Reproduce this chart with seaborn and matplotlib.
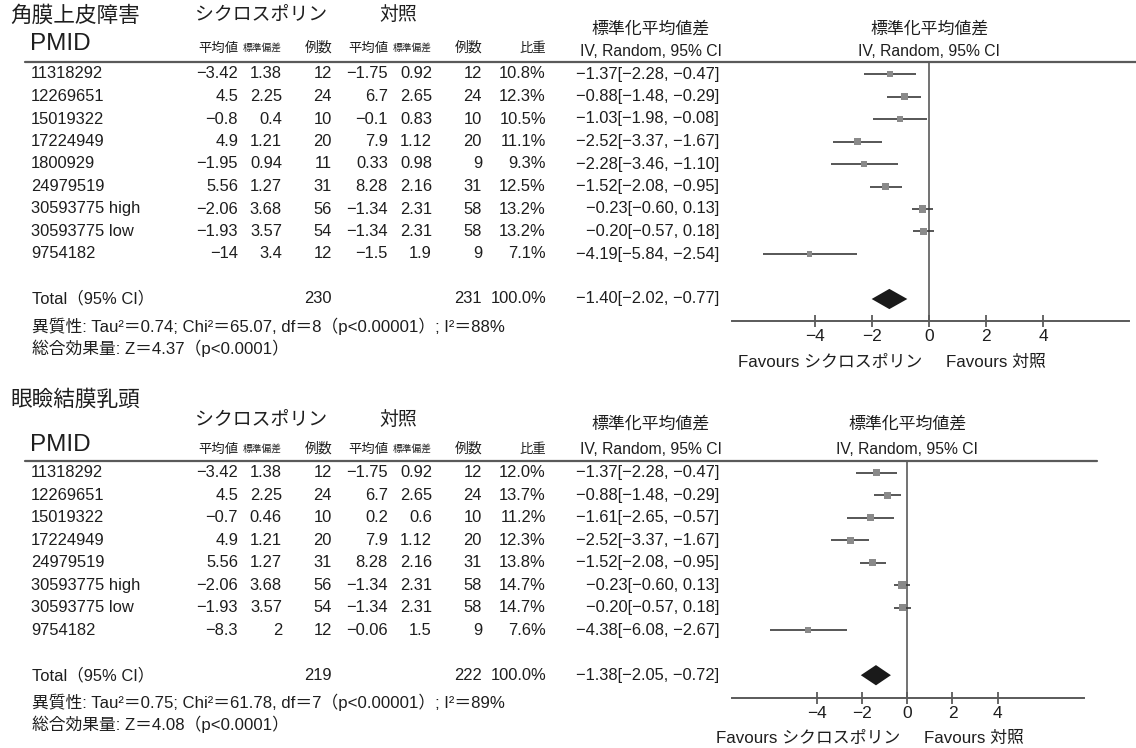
import matplotlib
matplotlib.use("Agg")
import matplotlib.pyplot as plt
from matplotlib.lines import Line2D
import numpy as np
import pandas as pd
import seaborn as sns

# ---------------- data: 角膜上皮障害 ----------------
kerat_pmid = ["11318292", "12269651", "15019322", "17224949", "1800929",
              "24979519", "30593775 high", "30593775 low", "9754182"]
kerat_cyc_mean = [-3.42, 4.5, -0.8, 4.9, -1.95, 5.56, -2.06, -1.93, -14]
kerat_cyc_sd = [1.38, 2.25, 0.4, 1.21, 0.94, 1.27, 3.68, 3.57, 3.4]
kerat_cyc_n = [12, 24, 10, 20, 11, 31, 56, 54, 12]
kerat_ctl_mean = [-1.75, 6.7, -0.1, 7.9, 0.33, 8.28, -1.34, -1.34, -1.5]
kerat_ctl_sd = [0.92, 2.65, 0.83, 1.12, 0.98, 2.16, 2.31, 2.31, 1.9]
kerat_ctl_n = [12, 24, 10, 20, 9, 31, 58, 58, 9]
kerat_weight = [10.8, 12.3, 10.5, 11.1, 9.3, 12.5, 13.2, 13.2, 7.1]
kerat_smd = [-1.37, -0.88, -1.03, -2.52, -2.28, -1.52, -0.23, -0.20, -4.19]
kerat_lo = [-2.28, -1.48, -1.98, -3.37, -3.46, -2.08, -0.60, -0.57, -5.84]
kerat_hi = [-0.47, -0.29, -0.08, -1.67, -1.10, -0.95, 0.13, 0.18, -2.54]
kerat_total_n = [230, 231]
kerat_pooled = [-1.40, -2.02, -0.77]
kerat_het = "異質性: Tau²＝0.74; Chi²＝65.07, df＝8（p<0.00001）; I²＝88%"
kerat_overall = "総合効果量: Z＝4.37（p<0.0001）"

# ---------------- data: 眼瞼結膜乳頭 ----------------
papil_pmid = ["11318292", "12269651", "15019322", "17224949", "24979519",
              "30593775 high", "30593775 low", "9754182"]
papil_cyc_mean = [-3.42, 4.5, -0.7, 4.9, 5.56, -2.06, -1.93, -8.3]
papil_cyc_sd = [1.38, 2.25, 0.46, 1.21, 1.27, 3.68, 3.57, 2]
papil_cyc_n = [12, 24, 10, 20, 31, 56, 54, 12]
papil_ctl_mean = [-1.75, 6.7, 0.2, 7.9, 8.28, -1.34, -1.34, -0.06]
papil_ctl_sd = [0.92, 2.65, 0.6, 1.12, 2.16, 2.31, 2.31, 1.5]
papil_ctl_n = [12, 24, 10, 20, 31, 58, 58, 9]
papil_weight = [12.0, 13.7, 11.2, 12.3, 13.8, 14.7, 14.7, 7.6]
papil_smd = [-1.37, -0.88, -1.61, -2.52, -1.52, -0.23, -0.20, -4.38]
papil_lo = [-2.28, -1.48, -2.65, -3.37, -2.08, -0.60, -0.57, -6.08]
papil_hi = [-0.47, -0.29, -0.57, -1.67, -0.95, 0.13, 0.18, -2.67]
papil_total_n = [219, 222]
papil_pooled = [-1.38, -2.05, -0.72]
papil_het = "異質性: Tau²＝0.75; Chi²＝61.78, df＝7（p<0.00001）; I²＝89%"
papil_overall = "総合効果量: Z＝4.08（p<0.0001）"

tick_values = [-4, -2, 0, 2, 4]

# ---------------- style ----------------
sns.set_theme(style="white")
LATIN = ["Liberation Sans", "Noto Sans CJK JP", "DejaVu Sans"]
CJK = ["Noto Sans CJK JP", "DejaVu Sans"]
plt.rcParams["font.family"] = LATIN
plt.rcParams["axes.unicode_minus"] = True

INK = "#1e1e1e"
RULE = "#5a5a5a"
LINE = "#3a3a3a"
SQUARE = "#8a8a8a"
DIAMOND = "#1a1a1a"

W, H = 1136, 748
fig = plt.figure(figsize=(W / 100, H / 100), dpi=100)

ROW_SIZE = 11.9
NOTE_SIZE = 12.1
ROW_STEP = 22.5


def put(x, y, s, size, ha="left", va="center", family=None, color=INK):
    fig.text(x / W, 1 - y / H, s, fontsize=size, ha=ha, va=va,
             color=color, family=family or LATIN)


def num(v):
    return f"{v:g}".replace("-", "−")


def ci_text(e, lo, hi):
    f = lambda v: f"{v:.2f}".replace("-", "−")
    return f"{f(e)}[{f(lo)}, {f(hi)}]"


# right edges of the table columns
COL_CM, COL_CS, COL_CN = 238, 282, 332
COL_TM, COL_TS, COL_TN = 388, 432, 482
COL_W, COL_CI = 546, 719


def panel(title, lay, pmid, cm, cs, cn, tm, ts, tn, weight, smd, lo, hi,
          total_n, pooled, het, overall):
    # ---- headers ----
    put(10, lay["title_y"], title, 15.6, family=CJK)
    put(195, lay["group_y"], "シクロスポリン", 13.6, family=CJK)
    put(379, lay["group_y"], "対照", 13.6, family=CJK)
    put(30, lay["pmid_y"], "PMID", 17.5)
    for x, lab, sz in [(COL_CM, "平均値", 9.6), (COL_CS, "標準偏差", 7.0),
                       (COL_CN, "例数", 10), (COL_TM, "平均値", 9.6),
                       (COL_TS, "標準偏差", 7.0), (COL_TN, "例数", 10),
                       (COL_W, "比重", 9.6)]:
        put(x, lay["sub_y"], lab, sz, ha="right", family=CJK)
    for cx in (651, lay["zero_x"]):
        put(cx, lay["smd_y"], "標準化平均値差", 12.2, ha="center", family=CJK)
        put(cx, lay["iv_y"], "IV, Random, 95% CI", 11.3, ha="center")
    fig.add_artist(Line2D([25 / W, lay["rule_right"] / W],
                          [1 - lay["rule_y"] / H] * 2, color=RULE, lw=1.6))

    # ---- table rows ----
    n = len(pmid)
    ys = [lay["row0"] + ROW_STEP * i for i in range(n)]
    for i, y in enumerate(ys):
        put(31, y, pmid[i], ROW_SIZE)
        put(COL_CM, y, num(cm[i]), ROW_SIZE, ha="right")
        put(COL_CS, y, num(cs[i]), ROW_SIZE, ha="right")
        put(COL_CN, y, num(cn[i]), ROW_SIZE, ha="right")
        put(COL_TM, y, num(tm[i]), ROW_SIZE, ha="right")
        put(COL_TS, y, num(ts[i]), ROW_SIZE, ha="right")
        put(COL_TN, y, num(tn[i]), ROW_SIZE, ha="right")
        put(COL_W, y, f"{weight[i]:.1f}%", ROW_SIZE, ha="right")
        put(COL_CI, y, ci_text(smd[i], lo[i], hi[i]), ROW_SIZE, ha="right")

    ty = lay["row0"] + ROW_STEP * (n + 1)
    put(32, ty, "Total（95% CI）", ROW_SIZE)
    put(COL_CN, ty, str(total_n[0]), ROW_SIZE, ha="right")
    put(COL_TN, ty, str(total_n[1]), ROW_SIZE, ha="right")
    put(COL_W, ty, "100.0%", ROW_SIZE, ha="right")
    put(COL_CI, ty, ci_text(*pooled), ROW_SIZE, ha="right")
    put(32, ty + 27, het, NOTE_SIZE)
    put(32, ty + 49, overall, NOTE_SIZE)

    # ---- forest axes ----
    left, right = lay["ax_left"], lay["ax_right"]
    top, bottom = lay["rule_y"], lay["axis_y"]
    ax = fig.add_axes([left / W, 1 - bottom / H, (right - left) / W, (bottom - top) / H])
    ppu = lay["px_per_unit"]
    z = lay["zero_x"]

    rows = np.arange(n)
    ax.hlines(rows, lo, hi, color=LINE, lw=1.2, zorder=2)
    df = pd.DataFrame({"smd": smd, "row": rows, "w": weight})
    k = 2.0
    sns.scatterplot(data=df, x="smd", y="row", size="w",
                    sizes=(k * min(weight), k * max(weight)),
                    size_norm=(min(weight), max(weight)),
                    marker="s", color=SQUARE, edgecolor="none", linewidth=0,
                    legend=False, ax=ax, zorder=3)
    est, plo, phi = pooled
    tr = n + 1
    h = 0.45
    ax.fill([plo, est, phi, est], [tr, tr - h, tr, tr + h], color=DIAMOND, lw=0, zorder=3)
    ax.axvline(0, color=RULE, lw=1.2, zorder=1)

    ax.set_xlim((left - z) / ppu, (right - z) / ppu)
    ax.set_ylim((bottom - lay["row0"]) / ROW_STEP, (top - lay["row0"]) / ROW_STEP)
    ax.set(xlabel="", ylabel="")
    ax.set_facecolor("none")
    for s in ("top", "left", "right"):
        ax.spines[s].set_visible(False)
    ax.spines["bottom"].set_color(RULE)
    ax.spines["bottom"].set_linewidth(1.4)
    ax.set_yticks([])
    ax.set_xticks(tick_values)
    ax.tick_params(axis="x", bottom=True, direction="inout", length=8.5, width=1.3,
                   color=RULE, labelsize=12.5, labelcolor=INK, pad=1.5)

    put(z - 7, lay["fav_y"], "Favours シクロスポリン", 12.2, ha="right")
    put(z + 17, lay["fav_y"], "Favours 対照", 12.2, ha="left")


top_layout = dict(title_y=16, group_y=14, pmid_y=44, sub_y=48, smd_y=29, iv_y=51,
                  rule_y=61.7, rule_right=1136, row0=74, axis_y=320.7, fav_y=362,
                  zero_x=929.3, px_per_unit=28.54, ax_left=732, ax_right=1129)
bottom_layout = dict(title_y=400, group_y=419, pmid_y=445, sub_y=449, smd_y=424, iv_y=450,
                     rule_y=460.7, rule_right=1097, row0=472.7, axis_y=698.3, fav_y=738,
                     zero_x=907.2, px_per_unit=22.63, ax_left=732, ax_right=1084)

panel("角膜上皮障害", top_layout, kerat_pmid, kerat_cyc_mean, kerat_cyc_sd, kerat_cyc_n,
      kerat_ctl_mean, kerat_ctl_sd, kerat_ctl_n, kerat_weight, kerat_smd, kerat_lo,
      kerat_hi, kerat_total_n, kerat_pooled, kerat_het, kerat_overall)
panel("眼瞼結膜乳頭", bottom_layout, papil_pmid, papil_cyc_mean, papil_cyc_sd, papil_cyc_n,
      papil_ctl_mean, papil_ctl_sd, papil_ctl_n, papil_weight, papil_smd, papil_lo,
      papil_hi, papil_total_n, papil_pooled, papil_het, papil_overall)

fig.savefig("out.png", dpi=100, facecolor="white")
